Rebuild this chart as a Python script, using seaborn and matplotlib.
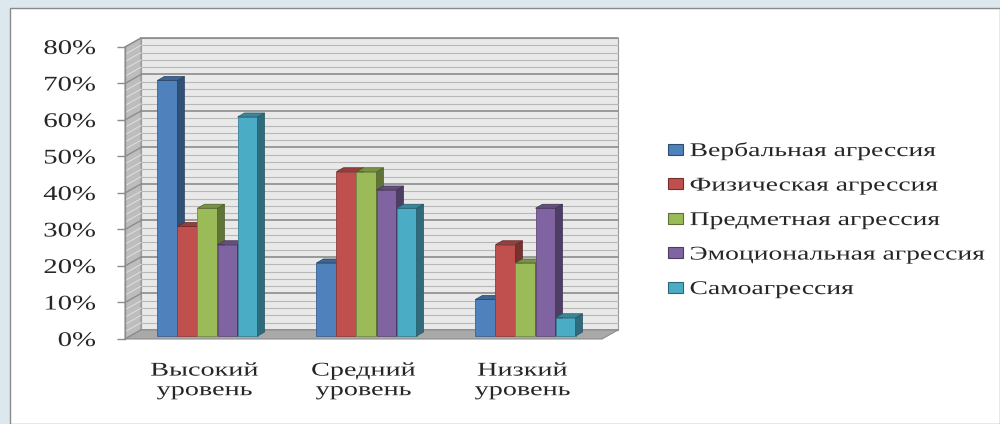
import numpy as np
import pandas as pd
import matplotlib
matplotlib.use('Agg')
import matplotlib.pyplot as plt
import matplotlib.transforms as mtransforms
from matplotlib.patches import Polygon, Rectangle, Patch
from matplotlib.patheffects import AbstractPathEffect
from matplotlib.colors import to_rgb
import seaborn as sns

# данные с диаграммы
levels = ['Высокий\nуровень', 'Средний\nуровень', 'Низкий\nуровень']
types = ['Вербальная агрессия', 'Физическая агрессия', 'Предметная агрессия',
         'Эмоциональная агрессия', 'Самоагрессия']
verbal = [70, 20, 10]
physical = [30, 45, 25]
subject = [35, 45, 20]
emotional = [25, 40, 35]
self_aggr = [60, 35, 5]
colors = ['#4F81BD', '#C0504D', '#9BBB59', '#8064A2', '#4BACC6']
y_ticks = [0, 10, 20, 30, 40, 50, 60, 70, 80]
y_labels = ['0%', '10%', '20%', '30%', '40%', '50%', '60%', '70%', '80%']

rows = []
for t, vals in zip(types, [verbal, physical, subject, emotional, self_aggr]):
    for lev, v in zip(levels, vals):
        rows.append({'level': lev, 'type': t, 'value': v})
df = pd.DataFrame(rows)


def shade(c, f):
    r, g, b = to_rgb(c)
    return (r * f, g * f, b * f)


# растянутый по горизонтали шрифт, как на исходной картинке
class Stretch(AbstractPathEffect):
    def __init__(self, sx, frac):
        super().__init__()
        self.sx = sx
        self.frac = frac

    def draw_path(self, renderer, gc, tpath, affine, rgbFace=None):
        ext = tpath.get_extents()
        x0 = ext.x0 + self.frac * ext.width
        t = mtransforms.Affine2D().translate(-x0, 0).scale(self.sx, 1).translate(x0, 0) + affine
        renderer.draw_path(gc, tpath, t, rgbFace)


sns.set_style('white')
plt.rcParams['font.family'] = ['Liberation Serif', 'DejaVu Serif']

fig = plt.figure(figsize=(10, 4.24), dpi=100)
fig.patch.set_facecolor('#dde8ee')
fig.add_artist(Rectangle((0.010, 0), 0.99, 0.981, transform=fig.transFigure,
                         facecolor='white', edgecolor='#8a8a8a', lw=1, zorder=0))

ax = fig.add_axes([0.125, 0.2005, 0.477, 0.6887])
ax.set_facecolor('none')

sns.barplot(data=df, x='level', y='value', hue='type', palette=colors,
            width=0.63, saturation=1, ax=ax, legend=False)
bars = list(ax.patches)
ax.set_ylim(0, 80)
ax.set_xlim(-0.5, 2.5)

# 3D "стены" в координатах осей
wdx, wdy = 16 / 477, 9 / 292
ax.add_patch(Rectangle((wdx, wdy), 1, 1, transform=ax.transAxes, facecolor='#e9e9e9',
                       edgecolor='#9a9a9a', lw=0.8, zorder=0.1, clip_on=False))
ax.add_patch(Polygon([(0, 0), (0, 1), (wdx, 1 + wdy), (wdx, wdy)], transform=ax.transAxes,
                     facecolor='#bdbdbd', edgecolor='#9a9a9a', lw=0.8, zorder=0.2, clip_on=False))
for v in np.arange(0, 81, 2):
    major = v % 10 == 0
    yv = v / 80
    ax.plot([wdx, 1 + wdx], [yv + wdy, yv + wdy], transform=ax.transAxes,
            color='#8c8c8c' if major else '#b8b8b8', lw=1.2 if major else 0.8,
            zorder=0.3, clip_on=False)
    ax.plot([0, wdx], [yv, yv + wdy], transform=ax.transAxes,
            color='#8c8c8c' if major else '#e0e0e0', lw=1.0 if major else 0.7,
            zorder=0.3, clip_on=False)
ax.add_patch(Polygon([(0, 0), (1, 0), (1 + wdx, wdy), (wdx, wdy)], transform=ax.transAxes,
                     facecolor='#a9a9a9', edgecolor='#8c8c8c', lw=0.8, zorder=0.5, clip_on=False))

# объём столбцов
bar_tr = ax.transData + mtransforms.ScaledTranslation(0.03, 0.03, fig.dpi_scale_trans)
ddx, ddy = 7 * 3 / 477, 4 * 80 / 292
order = sorted(range(len(bars)), key=lambda i: bars[i].get_x())
for k, i in enumerate(order):
    b = bars[i]
    c = b.get_facecolor()
    x, w, h = b.get_x(), b.get_width(), b.get_height()
    z = 3 + k * 0.01
    b.set_transform(bar_tr)
    b.set_zorder(z)
    b.set_edgecolor(shade(c, 0.75))
    b.set_linewidth(0.6)
    b.set_clip_on(False)
    x1 = x + w
    ax.add_patch(Polygon([(x1, 0), (x1, h), (x1 + ddx, h + ddy), (x1 + ddx, ddy)],
                         transform=bar_tr, facecolor=shade(c, 0.62),
                         edgecolor=shade(c, 0.5), lw=0.5, zorder=z, clip_on=False))
    ax.add_patch(Polygon([(x, h), (x1, h), (x1 + ddx, h + ddy), (x + ddx, h + ddy)],
                         transform=bar_tr, facecolor=shade(c, 0.78),
                         edgecolor=shade(c, 0.5), lw=0.5, zorder=z, clip_on=False))

for s in ['top', 'right', 'bottom']:
    ax.spines[s].set_visible(False)
ax.spines['left'].set_color('#8c8c8c')
ax.spines['left'].set_linewidth(1)
ax.spines['left'].set_zorder(0.6)

ax.set_yticks(y_ticks)
ax.set_yticklabels(y_labels)
ax.tick_params(axis='y', left=True, length=6, width=1, color='#8c8c8c',
               labelsize=15, pad=15)
ax.tick_params(axis='x', length=0, labelsize=14, pad=17)
ax.set_xlabel('')
ax.set_ylabel('')
for lbl in ax.get_yticklabels():
    lbl.set_path_effects([Stretch(1.38, 1.0)])
for lbl in ax.get_xticklabels():
    lbl.set_path_effects([Stretch(1.45, 0.5)])

handles = [Patch(facecolor=c, edgecolor=shade(c, 0.6), lw=0.8) for c in colors]
leg = fig.legend(handles, types, loc='center left', bbox_to_anchor=(0.65, 0.481),
                 frameon=False, fontsize=14, handlelength=0.8, handleheight=0.5,
                 handletextpad=0.35, labelspacing=0.9)
for t in leg.get_texts():
    t.set_path_effects([Stretch(1.42, 0.0)])

fig.savefig('out.png', dpi=100, facecolor=fig.get_facecolor())
